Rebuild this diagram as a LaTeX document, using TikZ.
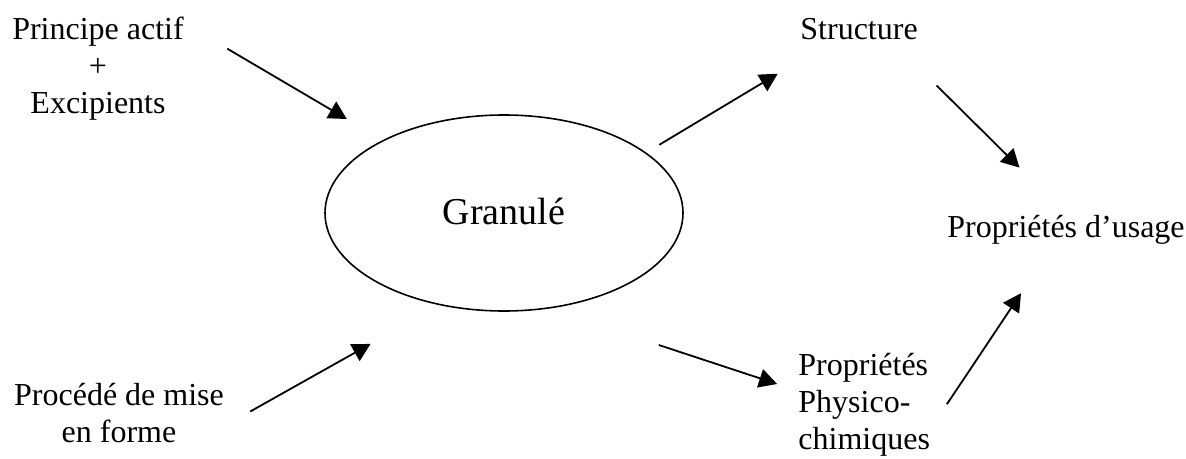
\documentclass[tikz,border=0pt]{standalone}
\usepackage{fontspec}
\setmainfont{Liberation Serif}
\usetikzlibrary{arrows.meta,shapes.geometric}

\begin{document}
\begin{tikzpicture}[x=0.5pt,y=0.5pt]
\tikzstyle{every node}+=[inner sep=0pt]
\tikzstyle{lbl}=[font=\fontsize{16}{18.5}\selectfont]
\tikzstyle{arr}=[black,line width=0.9pt,-{Triangle[length=9pt,width=9.5pt]}]
\useasboundingbox (0,0) rectangle (1186,-459);
% inputs
\node [lbl,align=center,anchor=north] (pa) at (98,-17) {Principe actif\\+\\Excipients};
\node [lbl,align=center,anchor=north] (proc) at (119,-383) {Procédé de mise\\en forme};
% granule
\node [draw,ellipse,line width=0.8pt,minimum width=179pt,minimum height=98pt,font=\fontsize{19}{22}\selectfont] (gran) at (504,-213) {\raisebox{2pt}{Granulé}};
% outputs
\node [lbl,anchor=base west] (struct) at (800,-40) {Structure};
\node [lbl,align=left,anchor=north west] (phys) at (798,-353) {Propriétés\\Physico-\\chimiques};
\node [lbl,anchor=base west] (usage) at (947,-238) {Propriétés d’usage};
% arrows
\draw [arr,shorten <=25pt,shorten >=20.8pt] (pa.28) -- (gran.149);
\draw [arr,shorten <=14.9pt,shorten >=39.5pt] (proc.-7) -- (gran.235);
\draw [arr,shorten <=7.6pt,shorten >=32.1pt] (gran.23) -- (struct.203);
\draw [arr,shorten <=58pt,shorten >=11pt] (gran.-65) -- (phys.168);
\draw [arr,shorten <=31.8pt,shorten >=33.9pt] (struct.-19) -- (usage.84);
\draw [arr,shorten <=14.9pt,shorten >=28.8pt] (phys.-20) -- (usage.229);
\end{tikzpicture}
\end{document}
